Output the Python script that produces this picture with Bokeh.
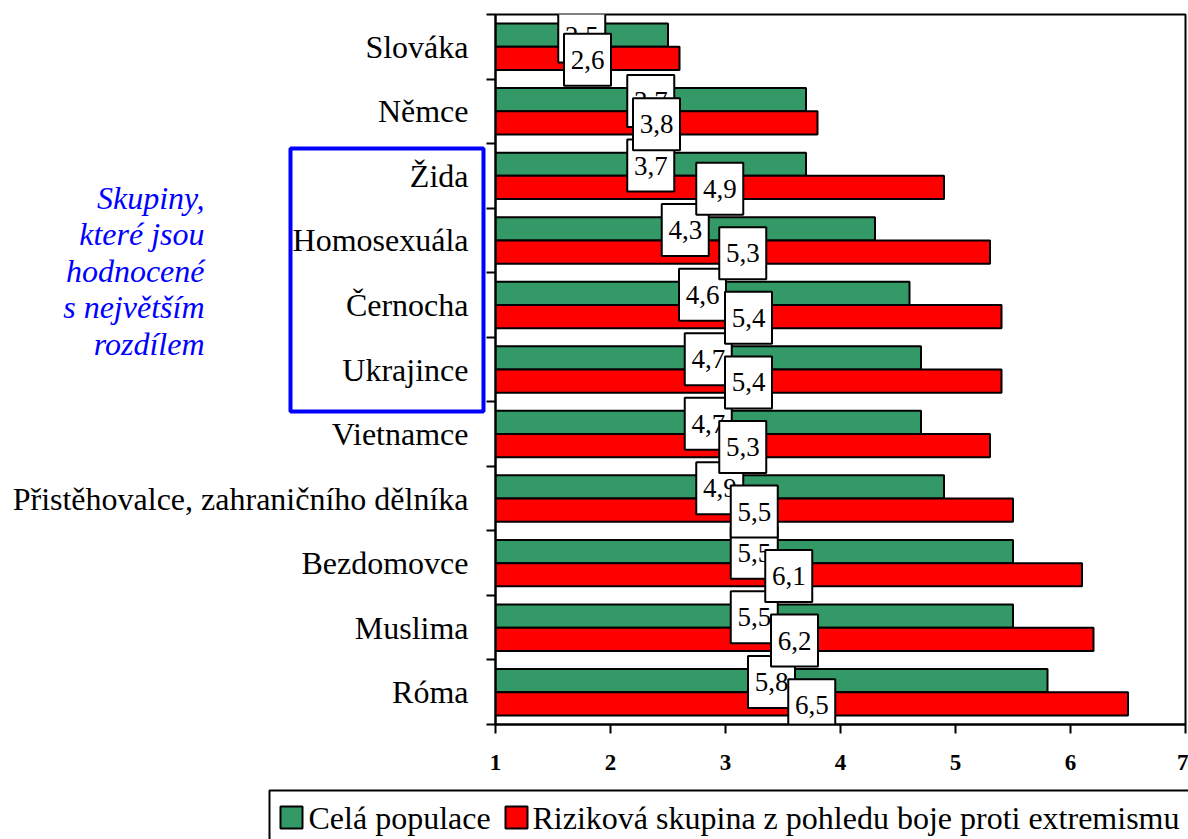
from bokeh.plotting import figure
from bokeh.models import Range1d, FixedTicker, LinearAxis, ColumnDataSource
from bokeh.core.properties import value
from bokeh.embed import file_html
from bokeh.resources import INLINE

# ---------------- data ----------------
categories = ["Slováka", "Němce", "Žida", "Homosexuála", "Černocha", "Ukrajince",
              "Vietnamce", "Přistěhovalce, zahraničního dělníka", "Bezdomovce",
              "Muslima", "Róma"]
cela_populace = [2.5, 3.7, 3.7, 4.3, 4.6, 4.7, 4.7, 4.9, 5.5, 5.5, 5.8]
rizikova_skupina = [2.6, 3.8, 4.9, 5.3, 5.4, 5.4, 5.3, 5.5, 6.1, 6.2, 6.5]
series_names = ["Celá populace", "Riziková skupina z pohledu boje proti extremismu"]
x_ticks = [1, 2, 3, 4, 5, 6, 7]
note_lines = ["Skupiny,", "které jsou", "hodnocené", "s největším", "rozdílem"]

# ---------------- layout ----------------
W, H = 1188, 839
BL, BR, BT, BB = 495, 3, 14, 115
FW, FH = W - BL - BR, H - BT - BB
N = len(categories)
XMIN, XMAX = 1, 7
SERIF = "Liberation Serif"
GREEN = "#339966"
RED = "#FF0000"
BLUE = "#0000FF"
SERIES_COLORS = [GREEN, RED]

# canvas pixel -> data helpers (for the free-standing annotations only)
def px_x(sx):
    return XMIN + (sx - BL) * (XMAX - XMIN) / FW

def px_y(sy):
    return (sy - BT) * N / FH

p = figure(width=W, height=H, output_backend="svg", toolbar_location=None,
           x_range=Range1d(XMIN, XMAX), y_range=Range1d(N, 0),
           x_axis_location=None, y_axis_location=None,
           min_border_left=BL, min_border_right=BR, min_border_top=BT, min_border_bottom=BB)
p.xgrid.visible = False
p.ygrid.visible = False
p.outline_line_color = "black"
p.outline_line_width = 2
p.background_fill_color = "white"
p.border_fill_color = "white"

centers = [i + 0.5 for i in range(N)]
bounds = list(range(N + 1))

# y axis
yax = LinearAxis(ticker=FixedTicker(ticks=centers, minor_ticks=bounds),
                 major_label_overrides={c: n for c, n in zip(centers, categories)})
yax.major_tick_line_color = None
yax.major_tick_out = 0
yax.major_tick_in = 0
yax.minor_tick_out = 9
yax.minor_tick_in = 0
yax.minor_tick_line_color = "black"
yax.minor_tick_line_width = 2
yax.axis_line_width = 2
yax.major_label_standoff = 18
yax.major_label_text_font = SERIF
yax.major_label_text_font_size = "32px"
yax.major_label_text_color = "black"
p.add_layout(yax, "left")

# x axis
xax = LinearAxis(ticker=FixedTicker(ticks=x_ticks, minor_ticks=[]))
xax.major_tick_out = 9
xax.major_tick_in = 0
xax.major_tick_line_width = 2
xax.axis_line_width = 2
xax.major_label_standoff = 21
xax.major_label_text_font = SERIF
xax.major_label_text_font_style = "bold"
xax.major_label_text_font_size = "23px"
xax.major_label_text_color = "black"
p.add_layout(xax, "below")

# bars
g_src = ColumnDataSource(dict(y=[c - 0.18 for c in centers], right=cela_populace,
                              lx=[(XMIN + v) / 2 for v in cela_populace],
                              ly=[i + 0.34 for i in range(N)],
                              txt=[str(v).replace(".", ",") for v in cela_populace]))
r_src = ColumnDataSource(dict(y=[c + 0.18 for c in centers], right=rizikova_skupina,
                              lx=[(XMIN + v) / 2 for v in rizikova_skupina],
                              ly=[i + 0.70 for i in range(N)],
                              txt=[str(v).replace(".", ",") for v in rizikova_skupina]))

bar_style = dict(left=XMIN, height=0.36, line_color="black", line_width=2)
p.hbar(y="y", right="right", source=g_src, fill_color=GREEN, **bar_style)
p.hbar(y="y", right="right", source=r_src, fill_color=RED, **bar_style)

# data labels in white boxes
for src in (g_src, r_src):
    p.rect(x="lx", y="ly", width=47, height=52, width_units="screen", height_units="screen",
           source=src, fill_color="white", line_color="black", line_width=2)
    p.text(x="lx", y="ly", text="txt", source=src, text_align="center",
           text_baseline="middle", text_font=value(SERIF), text_font_size="27px",
           text_color="black")

# blue highlight box and note (overlay level so they may sit outside the frame)
p.quad(left=[px_x(290)], right=[px_x(483)], top=[px_y(148)], bottom=[px_y(411)],
       fill_color=None, line_color=BLUE, line_width=4, level="overlay")
note_y0, note_dy = 197, 36.6
p.text(x=[px_x(204)] * len(note_lines),
       y=[px_y(note_y0 + k * note_dy) for k in range(len(note_lines))],
       text=note_lines, text_align="right", text_baseline="middle",
       text_font=value(SERIF), text_font_style="italic", text_font_size="32px",
       text_color=BLUE, level="overlay")

# legend box below the axis (runs off the bottom/right edge like the original)
leg_top, leg_mid = 790, 817
p.quad(left=[px_x(269)], right=[px_x(1200)], top=[px_y(leg_top)], bottom=[px_y(860)],
       fill_color="white", line_color="black", line_width=2, level="overlay")
key_left = [280, 505]
text_left = [308, 532]
p.quad(left=[px_x(k) for k in key_left], right=[px_x(k + 22) for k in key_left],
       top=[px_y(leg_mid - 11)] * 2, bottom=[px_y(leg_mid + 11)] * 2,
       fill_color=SERIES_COLORS, line_color="black", line_width=2, level="overlay")
p.text(x=[px_x(t) for t in text_left], y=[px_y(leg_mid)] * 2, text=series_names,
       text_align="left", text_baseline="middle", text_font=value(SERIF),
       text_font_size="32px", text_color="black", level="overlay")

html = file_html(p, INLINE)
open("out.html", "w").write(html)
